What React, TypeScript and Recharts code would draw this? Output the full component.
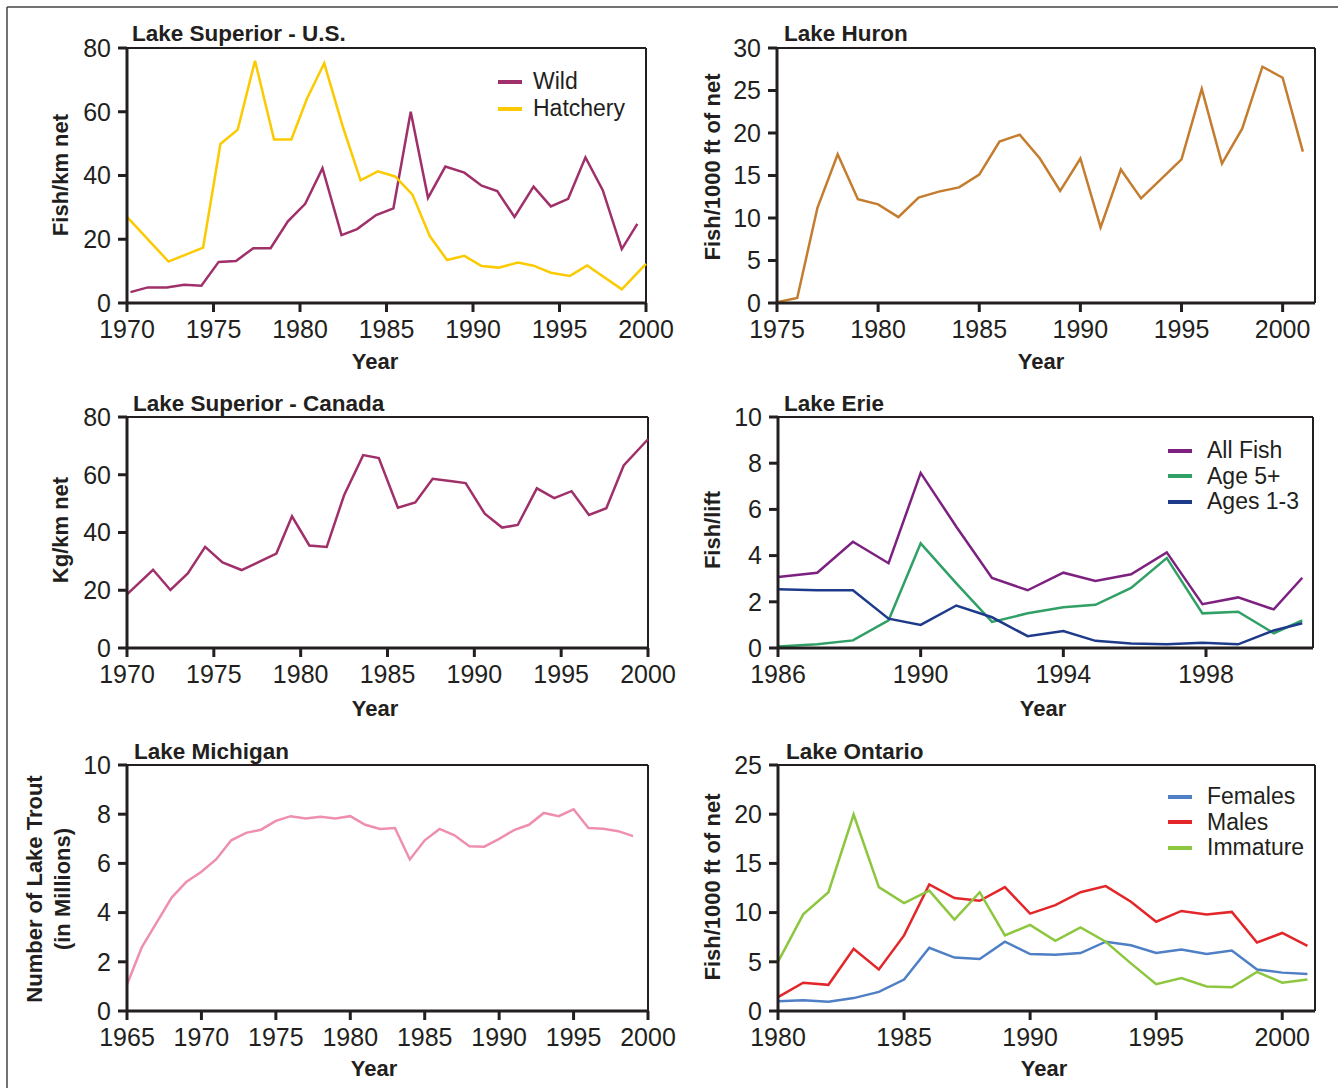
import { LineChart, Line, XAxis, YAxis, ReferenceLine, Legend } from "recharts";

// Lake Superior - U.S.
const supUsWildYears = [1970.2, 1971.2, 1972.3, 1973.3, 1974.3, 1975.3, 1976.3, 1977.3, 1978.3, 1979.3, 1980.3, 1981.3, 1982.4, 1983.3, 1984.4, 1985.4, 1986.4, 1987.4, 1988.4, 1989.5, 1990.5, 1991.4, 1992.4, 1993.5, 1994.5, 1995.5, 1996.5, 1997.5, 1998.6, 1999.5];
const supUsWild = [3.4, 4.9, 4.9, 5.7, 5.4, 12.9, 13.2, 17.2, 17.2, 25.6, 31.1, 42.3, 21.3, 23.2, 27.6, 29.7, 60, 33, 42.8, 40.9, 36.8, 35.1, 27, 36.5, 30.3, 32.7, 45.7, 35.4, 16.9, 24.8];
const supUsHatchYears = [1970, 1972.4, 1973.4, 1974.4, 1975.4, 1976.4, 1977.4, 1978.5, 1979.5, 1980.4, 1981.4, 1982.5, 1983.5, 1984.5, 1985.5, 1986.5, 1987.5, 1988.5, 1989.5, 1990.5, 1991.5, 1992.6, 1993.5, 1994.5, 1995.6, 1996.6, 1998.6, 2000];
const supUsHatch = [27, 13, 15.2, 17.4, 49.9, 54.4, 76, 51.3, 51.3, 64.1, 75.2, 54.9, 38.5, 41.3, 39.7, 34, 21, 13.5, 14.8, 11.6, 11.1, 12.7, 11.7, 9.5, 8.5, 11.8, 4.3, 12.3];

// Lake Huron
const huronYears = [1975, 1976, 1977, 1978, 1979, 1980, 1981, 1982, 1983, 1984, 1985, 1986, 1987, 1988, 1989, 1990, 1991, 1992, 1993, 1994, 1995, 1996, 1997, 1998, 1999, 2000, 2001];
const huron = [0.1, 0.6, 11.2, 17.5, 12.2, 11.6, 10.1, 12.4, 13.1, 13.6, 15.1, 19, 19.8, 17, 13.2, 17, 8.9, 15.7, 12.3, 14.6, 16.9, 25.2, 16.4, 20.5, 27.8, 26.5, 17.8];

// Lake Superior - Canada
const supCanYears = [1970, 1971.5, 1972.5, 1973.5, 1974.5, 1975.5, 1976.6, 1977.6, 1978.6, 1979.5, 1980.5, 1981.5, 1982.5, 1983.6, 1984.5, 1985.6, 1986.6, 1987.6, 1988.6, 1989.5, 1990.6, 1991.6, 1992.5, 1993.6, 1994.6, 1995.6, 1996.6, 1997.6, 1998.6, 2000];
const supCan = [18.6, 27.1, 20.1, 25.8, 35, 29.6, 27, 29.8, 32.7, 45.6, 35.5, 35, 52.9, 66.8, 65.8, 48.6, 50.4, 58.6, 57.8, 57.1, 46.5, 41.7, 42.6, 55.3, 51.9, 54.3, 46.1, 48.4, 63.2, 72.3];

// Lake Erie
const erieYears = [1986, 1987.1, 1988.1, 1989.1, 1990, 1991, 1992, 1993, 1994, 1994.9, 1995.9, 1996.9, 1997.9, 1998.9, 1999.9, 2000.7];
const erieAll = [3.07, 3.26, 4.6, 3.67, 7.58, 5.25, 3.03, 2.5, 3.26, 2.9, 3.19, 4.14, 1.9, 2.19, 1.67, 3.04];
const erieAge5 = [0.07, 0.16, 0.33, 1.2, 4.53, 2.8, 1.13, 1.5, 1.76, 1.87, 2.6, 3.89, 1.5, 1.57, 0.64, 1.2];
const erieAge13 = [2.54, 2.5, 2.5, 1.27, 1.0, 1.84, 1.33, 0.51, 0.73, 0.31, 0.2, 0.16, 0.23, 0.16, 0.76, 1.07];

// Lake Michigan
const michYears = [1965, 1966, 1967, 1968, 1969, 1970, 1971, 1972, 1973, 1974, 1975, 1976, 1977, 1978, 1979, 1980, 1981, 1982, 1983, 1984, 1985, 1986, 1987, 1988, 1989, 1990, 1991, 1992, 1993, 1994, 1995, 1996, 1997, 1998, 1999];
const mich = [1.08, 2.6, 3.6, 4.61, 5.26, 5.66, 6.17, 6.94, 7.24, 7.37, 7.73, 7.92, 7.83, 7.9, 7.83, 7.92, 7.57, 7.4, 7.44, 6.16, 6.94, 7.4, 7.14, 6.7, 6.68, 7.0, 7.35, 7.57, 8.05, 7.92, 8.2, 7.44, 7.41, 7.31, 7.11];

// Lake Ontario
const ontYears = [1980, 1981, 1982, 1983, 1984, 1985, 1986, 1987, 1988, 1989, 1990, 1991, 1992, 1993, 1994, 1995, 1996, 1997, 1998, 1999, 2000, 2001];
const ontFemales = [1.0, 1.09, 0.94, 1.31, 1.94, 3.19, 6.43, 5.43, 5.29, 7.04, 5.79, 5.71, 5.89, 7.04, 6.68, 5.89, 6.25, 5.79, 6.14, 4.22, 3.9, 3.75];
const ontMales = [1.41, 2.88, 2.66, 6.32, 4.22, 7.68, 12.86, 11.48, 11.2, 12.59, 9.9, 10.76, 12.07, 12.69, 11.1, 9.07, 10.17, 9.82, 10.07, 6.96, 7.93, 6.61];
const ontImmature = [5.0, 9.82, 12.07, 19.97, 12.59, 10.97, 12.24, 9.29, 12.07, 7.68, 8.75, 7.14, 8.5, 7.04, 4.84, 2.72, 3.34, 2.5, 2.41, 3.97, 2.88, 3.19];

// tick labels
const ticksX1970 = [1970, 1975, 1980, 1985, 1990, 1995, 2000];
const ticksX1975 = [1975, 1980, 1985, 1990, 1995, 2000];
const ticksX1986 = [1986, 1990, 1994, 1998];
const ticksX1965 = [1965, 1970, 1975, 1980, 1985, 1990, 1995, 2000];
const ticksX1980 = [1980, 1985, 1990, 1995, 2000];
const ticksY80 = [0, 20, 40, 60, 80];
const ticksY30 = [0, 5, 10, 15, 20, 25, 30];
const ticksY10 = [0, 2, 4, 6, 8, 10];
const ticksY25 = [0, 5, 10, 15, 20, 25];

const INK = "#231f20";
const FONT = "'Liberation Sans', Arial, Helvetica, sans-serif";

const zip = (xs: number[], vs: number[]) => xs.map((x, i) => ({ x, v: vs[i] }));

type Series = { name: string; color: string; data: { x: number; v: number }[] };

// space around the plot area inside each chart box
const L = 110, T = 15, R = 45, B = 50;

// legend keeps the series order (recharts sorts by name otherwise)
const makeLegend = (order: string[], gap: number, rowH: number) => (props: any) => {
  const items = [...(props.payload || [])].sort(
    (a: any, b: any) => order.indexOf(a.value) - order.indexOf(b.value)
  );
  return (
    <div style={{ fontFamily: FONT, fontSize: 23, color: INK }}>
      {items.map((p: any) => (
        <div key={p.value} style={{ display: "flex", alignItems: "center", height: rowH, whiteSpace: "nowrap" }}>
          <span style={{ display: "inline-block", width: 24, height: 4, background: p.color, marginRight: gap }} />
          <span>{p.value}</span>
        </div>
      ))}
    </div>
  );
};

function Panel(props: {
  plot: [number, number, number, number];
  xDomain: [number, number];
  xTicks: number[];
  yDomain: [number, number];
  yTicks: number[];
  series: Series[];
  legend?: { x: number; y: number; gap: number; rowH: number };
}) {
  const [px, py, pw, ph] = props.plot;
  const left = px - L;
  const top = py - T;
  const tickStyle = { fontFamily: FONT, fontSize: 25, fill: INK };
  const order = props.series.map((s) => s.name);
  return (
    <div style={{ position: "absolute", left, top }}>
      <LineChart
        width={L + pw + R}
        height={T + ph + B}
        margin={{ top: T, right: R, left: L - 60, bottom: B - 40 }}
      >
        <XAxis
          type="number"
          dataKey="x"
          domain={props.xDomain}
          ticks={props.xTicks}
          interval={0}
          height={40}
          tick={tickStyle}
          tickSize={9}
          tickMargin={8}
          axisLine={{ stroke: INK, strokeWidth: 3 }}
          tickLine={{ stroke: INK, strokeWidth: 3 }}
        />
        <YAxis
          type="number"
          domain={props.yDomain}
          ticks={props.yTicks}
          interval={0}
          width={60}
          tick={tickStyle}
          tickSize={9}
          tickMargin={7}
          axisLine={{ stroke: INK, strokeWidth: 3 }}
          tickLine={{ stroke: INK, strokeWidth: 3 }}
        />
        <ReferenceLine y={props.yDomain[1]} stroke={INK} strokeWidth={2} />
        <ReferenceLine x={props.xDomain[1]} stroke={INK} strokeWidth={2} />
        {props.series.map((s) => (
          <Line
            key={s.name}
            name={s.name}
            data={s.data}
            dataKey="v"
            stroke={s.color}
            strokeWidth={2.5}
            dot={false}
            activeDot={false}
            isAnimationActive={false}
          />
        ))}
        {props.legend && (
          <Legend
            layout="vertical"
            align="center"
            verticalAlign="middle"
            content={makeLegend(order, props.legend.gap, props.legend.rowH)}
            wrapperStyle={{ left: props.legend.x - left, top: props.legend.y - top, width: 200, height: "auto" }}
          />
        )}
      </LineChart>
    </div>
  );
}

const labelStyle = { fontFamily: FONT, fontSize: 22, fontWeight: 700, fill: INK };
const titleStyle = { ...labelStyle, fontSize: 22.5 };

const titles: [string, number, number][] = [
  ["Lake Superior - U.S.", 132, 41],
  ["Lake Huron", 784, 41],
  ["Lake Superior - Canada", 133, 411],
  ["Lake Erie", 784, 411],
  ["Lake Michigan", 134, 759],
  ["Lake Ontario", 786, 759],
];
const yearLabels: [number, number][] = [
  [375, 369], [1041, 369], [375, 716], [1043, 716], [374, 1076], [1044, 1076],
];
const yLabels: [string, number, number][] = [
  ["Fish/km net", 60, 175],
  ["Fish/1000 ft of net", 712, 167],
  ["Kg/km net", 60, 530],
  ["Fish/lift", 712, 530],
  ["Number of Lake Trout", 34, 889],
  ["(in Millions)", 62, 889],
  ["Fish/1000 ft of net", 712, 887],
];

export default function App() {
  return (
    <div style={{ position: "absolute", left: 0, top: 0, width: 1338, height: 1088, background: "#fff", overflow: "hidden" }}>
      <Panel
        plot={[127, 48, 519, 255]}
        xDomain={[1970, 2000]}
        xTicks={ticksX1970}
        yDomain={[0, 80]}
        yTicks={ticksY80}
        series={[
          { name: "Wild", color: "#a0306a", data: zip(supUsWildYears, supUsWild) },
          { name: "Hatchery", color: "#fbca00", data: zip(supUsHatchYears, supUsHatch) },
        ]}
        legend={{ x: 498, y: 68, gap: 11, rowH: 27 }}
      />
      <Panel
        plot={[777, 48, 538, 255]}
        xDomain={[1975, 2001.6]}
        xTicks={ticksX1975}
        yDomain={[0, 30]}
        yTicks={ticksY30}
        series={[{ name: "Lake Huron", color: "#c47c2f", data: zip(huronYears, huron) }]}
      />
      <Panel
        plot={[127, 417, 521, 231]}
        xDomain={[1970, 2000]}
        xTicks={ticksX1970}
        yDomain={[0, 80]}
        yTicks={ticksY80}
        series={[{ name: "Canada", color: "#a0306a", data: zip(supCanYears, supCan) }]}
      />
      <Panel
        plot={[778, 417, 535, 231]}
        xDomain={[1986, 2001]}
        xTicks={ticksX1986}
        yDomain={[0, 10]}
        yTicks={ticksY10}
        series={[
          { name: "All Fish", color: "#7d2181", data: zip(erieYears, erieAll) },
          { name: "Age 5+", color: "#30a066", data: zip(erieYears, erieAge5) },
          { name: "Ages 1-3", color: "#1e3a8a", data: zip(erieYears, erieAge13) },
        ]}
        legend={{ x: 1168, y: 438, gap: 15, rowH: 25.5 }}
      />
      <Panel
        plot={[127, 765, 521, 246]}
        xDomain={[1965, 2000]}
        xTicks={ticksX1965}
        yDomain={[0, 10]}
        yTicks={ticksY10}
        series={[{ name: "Michigan", color: "#ef8fb0", data: zip(michYears, mich) }]}
      />
      <Panel
        plot={[778, 765, 537, 246]}
        xDomain={[1980, 2001.3]}
        xTicks={ticksX1980}
        yDomain={[0, 25]}
        yTicks={ticksY25}
        series={[
          { name: "Females", color: "#4f7fc4", data: zip(ontYears, ontFemales) },
          { name: "Males", color: "#e3262a", data: zip(ontYears, ontMales) },
          { name: "Immature", color: "#8dc63f", data: zip(ontYears, ontImmature) },
        ]}
        legend={{ x: 1168, y: 784, gap: 15, rowH: 25.5 }}
      />
      <svg width={1338} height={1088} style={{ position: "absolute", left: 0, top: 0, pointerEvents: "none" }}>
        <line x1={7} y1={7} x2={1338} y2={7} stroke="#444" strokeWidth={1.5} />
        <line x1={7} y1={7} x2={7} y2={1088} stroke="#444" strokeWidth={1.5} />
        {titles.map(([t, x, y]) => (
          <text key={t + y} x={x} y={y} style={titleStyle}>{t}</text>
        ))}
        {yearLabels.map(([x, y]) => (
          <text key={"yr" + x + y} x={x} y={y} textAnchor="middle" style={labelStyle}>Year</text>
        ))}
        {yLabels.map(([t, x, y]) => (
          <text key={t + x + y} x={x} y={y} dy="0.35em" textAnchor="middle" transform={`rotate(-90 ${x} ${y})`} style={labelStyle}>{t}</text>
        ))}
      </svg>
    </div>
  );
}
